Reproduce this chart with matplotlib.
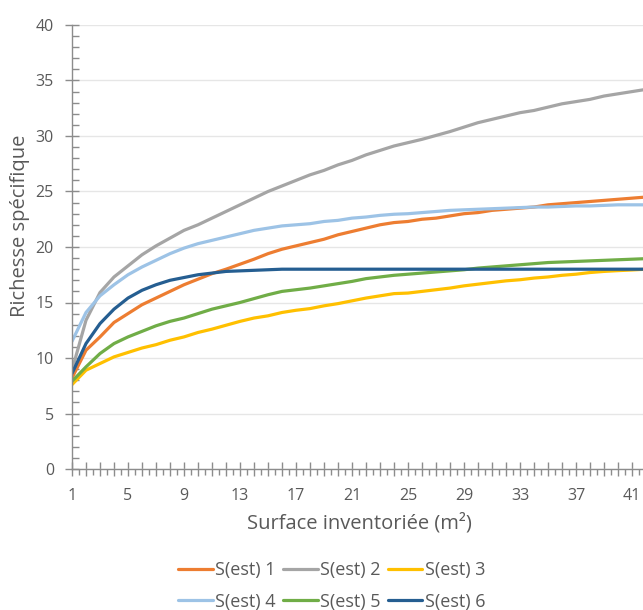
import matplotlib
matplotlib.use("Agg")
import matplotlib.pyplot as plt
from matplotlib.ticker import MultipleLocator, FixedLocator, FuncFormatter

plt.rcParams['font.family'] = ['Open Sans', 'DejaVu Sans']

# Surface inventoriée (m²)
surface = list(range(1, 43))

s_est_1 = [8.2, 10.7, 11.9, 13.2, 14.0, 14.8, 15.4, 16.0, 16.6, 17.1,
           17.6, 18.0, 18.45, 18.9, 19.4, 19.8, 20.1, 20.4, 20.7, 21.1,
           21.4, 21.7, 22.0, 22.2, 22.3, 22.5, 22.6, 22.8, 23.0, 23.1,
           23.3, 23.4, 23.5, 23.6, 23.8, 23.9, 24.0, 24.1, 24.2, 24.3,
           24.4, 24.5]
s_est_2 = [8.9, 13.4, 15.9, 17.3, 18.3, 19.3, 20.1, 20.8, 21.5, 22.0,
           22.6, 23.2, 23.8, 24.4, 25.0, 25.5, 26.0, 26.5, 26.9, 27.4,
           27.8, 28.3, 28.7, 29.1, 29.4, 29.7, 30.05, 30.4, 30.8, 31.2,
           31.5, 31.8, 32.1, 32.3, 32.6, 32.9, 33.1, 33.3, 33.6, 33.8,
           34.0, 34.2]
s_est_3 = [7.6, 8.9, 9.5, 10.1, 10.5, 10.9, 11.2, 11.6, 11.9, 12.3,
           12.6, 12.95, 13.3, 13.6, 13.8, 14.1, 14.3, 14.45, 14.7, 14.9,
           15.15, 15.4, 15.6, 15.8, 15.85, 16.0, 16.15, 16.3, 16.5, 16.65,
           16.8, 16.95, 17.05, 17.2, 17.3, 17.45, 17.55, 17.7, 17.8, 17.87,
           17.93, 18.0]
s_est_4 = [11.5, 14.1, 15.6, 16.6, 17.5, 18.2, 18.8, 19.4, 19.9, 20.3,
           20.6, 20.9, 21.2, 21.5, 21.7, 21.9, 22.0, 22.1, 22.3, 22.4,
           22.6, 22.7, 22.85, 22.95, 23.0, 23.1, 23.2, 23.3, 23.35, 23.4,
           23.45, 23.5, 23.55, 23.6, 23.6, 23.65, 23.7, 23.7, 23.75, 23.8,
           23.8, 23.8]
s_est_5 = [7.9, 9.2, 10.4, 11.3, 11.9, 12.4, 12.9, 13.3, 13.6, 14.0,
           14.4, 14.7, 15.0, 15.35, 15.7, 16.0, 16.15, 16.3, 16.5, 16.7,
           16.9, 17.15, 17.3, 17.45, 17.55, 17.65, 17.75, 17.85, 17.95, 18.1,
           18.2, 18.3, 18.4, 18.5, 18.6, 18.65, 18.7, 18.75, 18.8, 18.85,
           18.9, 18.95]
s_est_6 = [8.6, 11.3, 13.1, 14.4, 15.4, 16.1, 16.6, 17.0, 17.25, 17.5,
           17.65, 17.8, 17.85, 17.9, 17.95, 18.0, 18.0, 18.0, 18.0, 18.0,
           18.0, 18.0, 18.0, 18.0, 18.0, 18.0, 18.0, 18.0, 18.0, 18.0,
           18.0, 18.0, 18.0, 18.0, 18.0, 18.0, 18.0, 18.0, 18.0, 18.0,
           18.0, 18.0]

series_labels = ["S(est) 1", "S(est) 2", "S(est) 3",
                 "S(est) 4", "S(est) 5", "S(est) 6"]
series_values = [s_est_1, s_est_2, s_est_3, s_est_4, s_est_5, s_est_6]
series_colors = ["#ED7D31", "#A5A5A5", "#FFC000",
                 "#9DC3E6", "#70AD47", "#255E91"]

axis_col = "#8C8C8C"
text_col = "#595959"

fig = plt.figure(figsize=(6.43, 6.10), dpi=100)
ax = fig.add_axes([72 / 643, 141 / 610, 574 / 643, 444 / 610])

handles = []
for vals, col, lab in zip(series_values, series_colors, series_labels):
    h, = ax.plot(surface, vals, color=col, lw=2.3, label=lab,
                 solid_capstyle='round', solid_joinstyle='round')
    handles.append(h)

ax.set_xlim(1, 42)
ax.set_ylim(0, 40)

ax.yaxis.set_major_locator(MultipleLocator(5))
ax.yaxis.set_minor_locator(MultipleLocator(1))
ax.xaxis.set_major_locator(FixedLocator(surface))
ax.xaxis.set_minor_locator(FixedLocator([s + 0.5 for s in surface]))
ax.xaxis.set_major_formatter(
    FuncFormatter(lambda v, p: f"{int(round(v))}" if (int(round(v)) - 1) % 4 == 0 else ""))

ax.grid(axis='y', which='major', color='#E6E6E6', lw=1.0, zorder=0)
ax.set_axisbelow(True)

for side in ('top', 'right'):
    ax.spines[side].set_visible(False)
for side in ('left', 'bottom'):
    ax.spines[side].set_color(axis_col)
    ax.spines[side].set_linewidth(1.0)

ax.tick_params(axis='y', which='major', direction='inout', length=10, width=1,
               color=axis_col, labelsize=11.5, labelcolor=text_col, pad=8)
ax.tick_params(axis='y', which='minor', direction='in', length=5, width=1,
               color=axis_col)
ax.tick_params(axis='x', which='major', direction='inout', length=10, width=1,
               color=axis_col, labelsize=11.5, labelcolor=text_col, pad=9)
ax.tick_params(axis='x', which='minor', direction='out', length=4, width=1,
               color=axis_col)

fig.text(359 / 643, 1 - 523 / 610, "Surface inventoriée (m²)", ha='center', va='center',
         fontsize=14.5, color=text_col)
fig.text(20 / 643, 1 - 226 / 610, "Richesse spécifique", ha='center', va='center',
         rotation=90, fontsize=14.5, color=text_col)

order = [0, 3, 1, 4, 2, 5]
fig.legend([handles[i] for i in order], [series_labels[i] for i in order],
           ncol=3, loc='center', bbox_to_anchor=(332 / 643, 1 - 586 / 610),
           frameon=False, fontsize=13, handlelength=1.9, handletextpad=0.15,
           columnspacing=0.4, labelspacing=0.75, labelcolor=text_col)

fig.savefig("out.png", dpi=100)
